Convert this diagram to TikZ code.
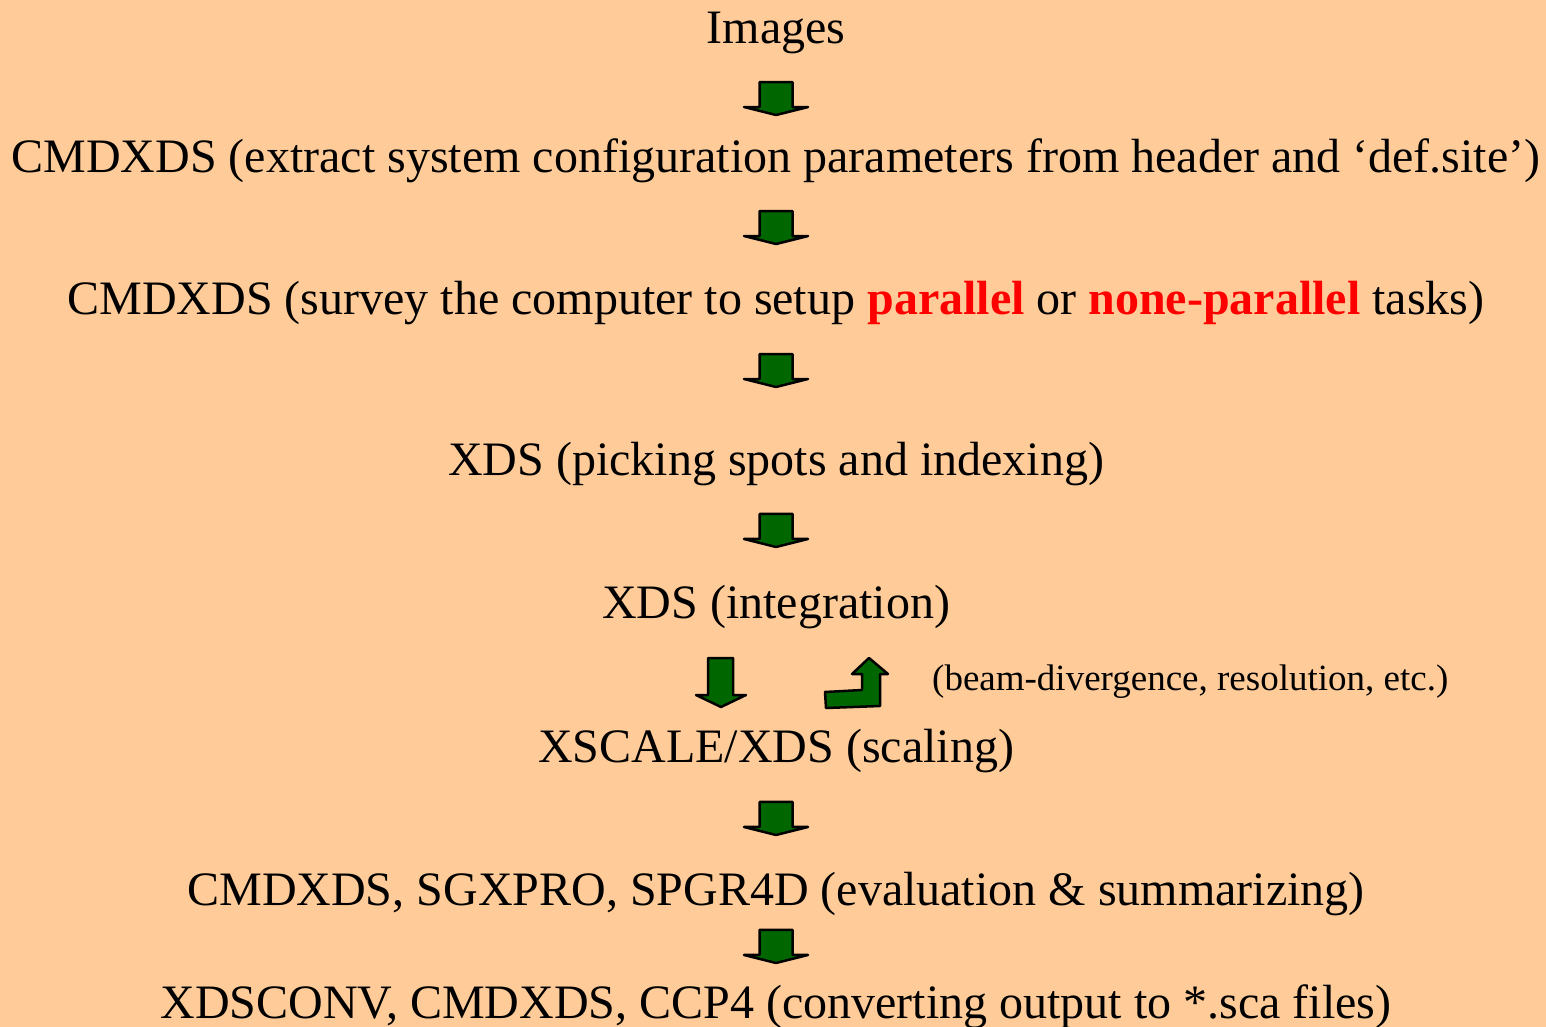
\documentclass[tikz,border=0pt]{standalone}
\usepackage{fontspec}
\setmainfont{Liberation Serif}
\usetikzlibrary{calc}

\definecolor{peach}{RGB}{255,204,153}
\definecolor{arrowgreen}{RGB}{0,102,0}
\definecolor{hotred}{RGB}{255,0,0}

\tikzset{
  stage/.style={anchor=base, inner sep=0pt, font=\fontsize{48}{56}\selectfont},
  remark/.style={anchor=base west, inner sep=0pt, font=\fontsize{37}{44}\selectfont},
  blockarrow/.style={draw=black, line width=2.5pt, fill=arrowgreen, line join=round},
  downblock/.pic={
    \draw[blockarrow] (-16.5,-16.5) -- (16.5,-16.5) -- (16.5,8.5) -- (32,8.5)
      -- (0,16.5) -- (-32,8.5) -- (-16.5,8.5) -- cycle;
  }
}
\newcommand{\hot}[1]{{\bfseries\color{hotred}#1}}

\begin{document}
\begin{tikzpicture}[x=1pt,y=-1pt]
  \fill[peach] (0,0) rectangle (1546,1027);
  \useasboundingbox (0,0) rectangle (1546,1027);

  \node[stage] (img) at (776,44) {Images};
  \node[stage] (cmd1) at (776,172) {CMDXDS (extract system configuration parameters from header and ‘def.site’)};
  \node[stage] (cmd2) at (776,314) {CMDXDS (survey the computer to setup \hot{parallel} or \hot{none-parallel} tasks)};
  \node[stage] (xds1) at (776,475) {XDS (picking spots and indexing)};
  \node[stage] (xds2) at (776,618) {XDS (integration)};
  \node[stage] (xscale) at (776,762) {XSCALE/XDS (scaling)};
  \node[stage] (cmd3) at (776,905) {CMDXDS, SGXPRO, SPGR4D (evaluation \& summarizing)};
  \node[stage] (conv) at (776,1018) {XDSCONV, CMDXDS, CCP4 (converting output to *.sca files)};
  \node[remark] (note) at (932,690) {(beam-divergence, resolution, etc.)};

  % flow arrows
  \pic at ($(img.base)!0.426!(cmd1.base)$) {downblock};
  \pic at ($(cmd1.base)!0.391!(cmd2.base)$) {downblock};
  \pic at ($(cmd2.base)!0.351!(xds1.base)$) {downblock};
  \pic at ($(xds1.base)!0.388!(xds2.base)$) {downblock};
  \pic at ($(xscale.base)!0.395!(cmd3.base)$) {downblock};
  \pic at ($(cmd3.base)!0.367!(conv.base)$) {downblock};

  % integration <-> scaling loop
  \draw[blockarrow] (708,658) -- (733,658) -- (733,695) -- (746,695) -- (721,707)
    -- (696,695) -- (708,695) -- cycle;
  \draw[blockarrow] (825,692) -- (862,690) -- (862,674) -- (852,674) -- (869,658)
    -- (888,674) -- (880,674) -- (880,706) -- (826,708) -- cycle;
\end{tikzpicture}
\end{document}
